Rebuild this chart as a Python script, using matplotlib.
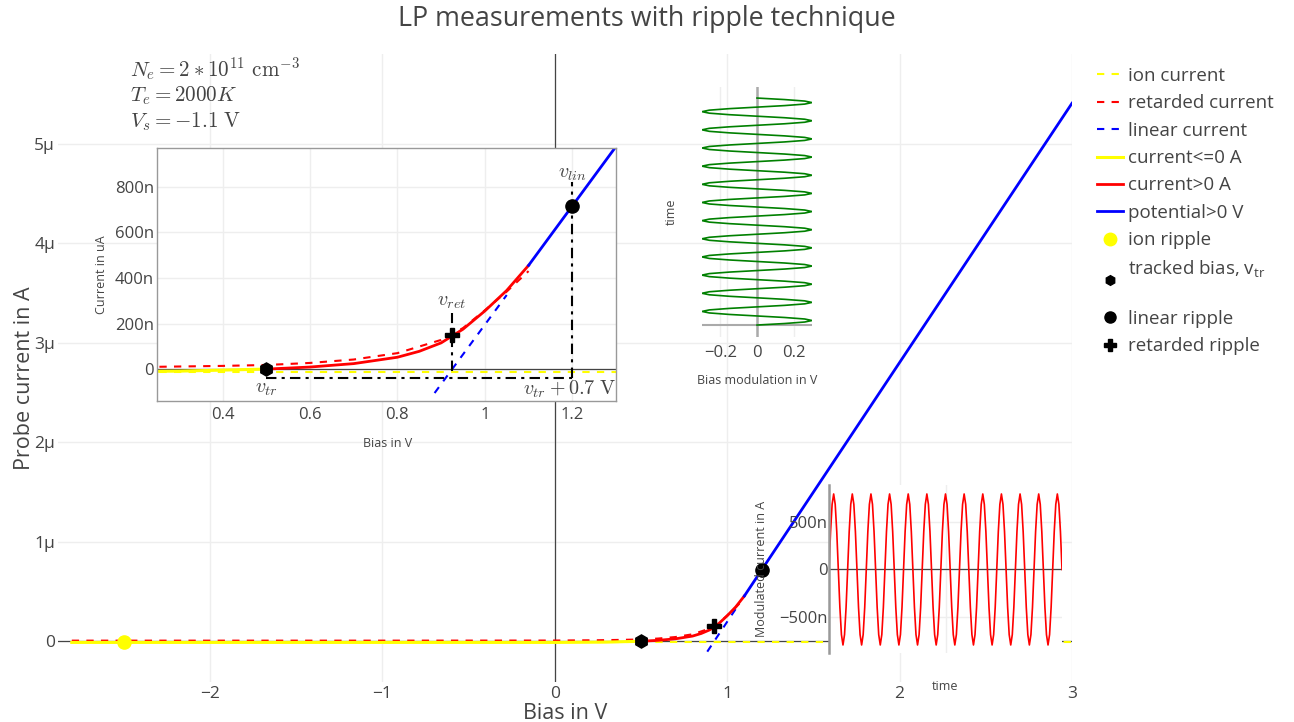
import matplotlib

matplotlib.use("Agg")
import matplotlib.pyplot as plt
import numpy as np
from matplotlib.lines import Line2D

plt.rcParams["font.family"] = ["Open Sans", "DejaVu Sans"]
plt.rcParams["mathtext.fontset"] = "cm"

TXT = "#444444"
GRID = "#eeeeee"
W, H = 1294, 722

# probe characteristic: bias in V, current in uA
ION_V = [-2.8, 3.0]
ION_I = [-0.012, -0.012]
RET_V = [-2.8, -1.0, 0.0, 0.25, 0.4, 0.5, 0.6, 0.7, 0.8, 0.9, 0.95, 1.0, 1.05, 1.1]
RET_I = [0.006, 0.006, 0.007, 0.01, 0.014, 0.018, 0.027, 0.042, 0.07, 0.128,
         0.18, 0.258, 0.34, 0.43]
LIN_V = [0.885, 1.05]
LIN_I = [-0.105, 0.325]
NEG_V = [-2.8, 0.0, 0.3, 0.5]
NEG_I = [-0.012, -0.012, -0.009, 0.0]
POS_V = [0.5, 0.6, 0.7, 0.8, 0.85, 0.9, 0.95, 1.0, 1.05, 1.1]
POS_I = [0.0, 0.009, 0.024, 0.052, 0.078, 0.115, 0.175, 0.255, 0.345, 0.455]
SAT_V = [1.1, 3.0]
SAT_I = [0.455, 5.41]

# ripple points
ION_RIP = ([-2.5], [-0.012])
TRACK = ([0.5], [0.0])
LIN_RIP = ([1.2], [0.716])
RET_RIP = ([0.925], [0.15])

# construction lines in the zoom inset
VRET_LINE = ([0.925, 0.925], [-0.01, 0.245])
VLIN_LINE = ([1.2, 1.2], [-0.04, 0.82])
OFFSET_LINE = ([0.5, 1.2], [-0.04, -0.04])

# one period of the bias modulation (V) and of the modulated current (uA)
MOD_PERIOD = [0, 0.15, 0.26, 0.30, 0.26, 0.15, 0, -0.15, -0.26, -0.30, -0.26, -0.15]
CUR_PERIOD = [0, 0.40, 0.69, 0.80, 0.69, 0.40, 0, -0.40, -0.69, -0.80, -0.69, -0.40]
N_FULL = 12  # full periods, plus a half one

X_TICKS = [-2, -1, 0, 1, 2, 3]
X_LABELS = ["\u22122", "\u22121", "0", "1", "2", "3"]
Y_TICKS = [0, 1, 2, 3, 4, 5]
Y_LABELS = ["0", "1\u00b5", "2\u00b5", "3\u00b5", "4\u00b5", "5\u00b5"]
Z_XTICKS = [0.4, 0.6, 0.8, 1.0, 1.2]
Z_XLABELS = ["0.4", "0.6", "0.8", "1", "1.2"]
Z_YTICKS = [0, 0.2, 0.4, 0.6, 0.8]
Z_YLABELS = ["0", "200n", "400n", "600n", "800n"]
M_TICKS = [-0.2, 0, 0.2]
M_LABELS = ["\u22120.2", "0", "0.2"]
C_TICKS = [-0.5, 0, 0.5]
C_LABELS = ["\u2212500n", "0", "500n"]


def frac(left, top, right, bottom):
    return [left / W, 1 - bottom / H, (right - left) / W, (bottom - top) / H]


def wave(period):
    p = np.asarray(period)
    return np.concatenate([np.tile(p, N_FULL), p[:7]])


def curves(ax, ms=9.5):
    ax.plot(ION_V, ION_I, color="yellow", lw=1.5, dashes=(3.5, 3.5))
    ax.plot(RET_V, RET_I, color="red", lw=1.5, dashes=(3.5, 3.5))
    ax.plot(LIN_V, LIN_I, color="blue", lw=1.5, dashes=(3.5, 3.5))
    ax.plot(NEG_V, NEG_I, color="yellow", lw=2.2)
    ax.plot(POS_V, POS_I, color="red", lw=2.0)
    ax.plot(SAT_V, SAT_I, color="blue", lw=2.0)
    ax.plot(*ION_RIP, "o", color="yellow", ms=ms, zorder=5)
    ax.plot(*TRACK, "h", color="black", ms=ms, zorder=5)
    ax.plot(*LIN_RIP, "o", color="black", ms=ms, zorder=5)
    ax.plot(*RET_RIP, "P", color="black", ms=ms + 1, zorder=5)


def style(ax, size=12):
    ax.tick_params(length=0, colors=TXT, labelsize=size)
    for s in ax.spines.values():
        s.set_visible(False)
    ax.grid(True, color=GRID, lw=1)
    ax.set_axisbelow(True)


fig = plt.figure(figsize=(W / 100, H / 100), dpi=100)

# main characteristic
ax = fig.add_axes(frac(58, 54, 1072, 682))
style(ax, 12.5)
ax.axhline(0, color=TXT, lw=0.9, zorder=1)
ax.axvline(0, color=TXT, lw=0.9, zorder=1)
curves(ax)
ax.set_xlim(-2.88, 3.0)
ax.set_ylim(-0.41, 5.905)
ax.set_xticks(X_TICKS, X_LABELS)
ax.set_yticks(Y_TICKS, Y_LABELS)
ax.tick_params(axis="x", pad=3)
ax.tick_params(axis="y", pad=2)
ax.set_xlabel("Bias in V", fontsize=15.5, color=TXT)
ax.set_ylabel("Probe current in A", fontsize=15.5, color=TXT)
ax.xaxis.set_label_coords(0.5, -0.033)
ax.yaxis.set_label_coords(-0.023, 0.484)

# zoom on the knee
z = fig.add_axes(frac(157, 148, 616, 401))
style(z)
z.set_facecolor("white")
for s in z.spines.values():
    s.set_visible(True)
    s.set_color("#999999")
    s.set_linewidth(1)
z.axhline(0, color=TXT, lw=0.9, zorder=1)
curves(z)
dd = dict(color="black", lw=1.5, dashes=(5, 2.5, 1.5, 2.5))
z.plot(*VRET_LINE, **dd)
z.plot(*VLIN_LINE, **dd)
z.plot(*OFFSET_LINE, **dd)
z.set_xlim(0.25, 1.3)
z.set_ylim(-0.14, 0.97)
z.set_xticks(Z_XTICKS, Z_XLABELS)
z.set_yticks(Z_YTICKS, Z_YLABELS)
z.tick_params(axis="x", pad=4)
z.tick_params(axis="y", pad=2)
z.set_xlabel("Bias in V", fontsize=9, color=TXT)
z.set_ylabel("Current in uA", fontsize=9, color=TXT)
z.xaxis.set_label_coords(0.503, -0.142)
z.yaxis.set_label_coords(-0.107, 0.5)
lab = dict(ha="center", va="center", fontsize=14.5, color=TXT)
z.text(1.2, 0.86, r"$v_{lin}$", **lab)
z.text(0.925, 0.30, r"$v_{ret}$", **lab)
z.text(0.5, -0.085, r"$v_{tr}$", **lab)
z.text(1.195, -0.087, r"$v_{tr}+0.7\ \mathrm{V}$", **lab)

# bias modulation against time
mod = wave(MOD_PERIOD)
m = fig.add_axes(frac(702, 87, 812, 337))
style(m)
m.set_facecolor("none")
m.axvline(0, color="#aaaaaa", lw=1.8, zorder=1)
m.axhline(0, color="#aaaaaa", lw=1.5, zorder=1)
m.plot(mod, np.arange(len(mod)), color="green", lw=1.2)
m.set_xlim(-0.3, 0.3)
m.set_ylim(-7.9, 157.3)
m.set_xticks(M_TICKS, M_LABELS)
m.set_yticks([])
m.tick_params(axis="x", pad=6)
m.set_xlabel("Bias modulation in V", fontsize=9, color=TXT)
m.set_ylabel("time", fontsize=9, color=TXT)
m.xaxis.set_label_coords(0.5, -0.148)
m.yaxis.set_label_coords(-0.22, 0.5)

# modulated current against time
cur = wave(CUR_PERIOD)
c = fig.add_axes(frac(829, 485, 1062, 653))
style(c)
c.set_facecolor("white")
c.spines["left"].set_visible(True)
c.spines["left"].set_color("#999999")
c.spines["left"].set_linewidth(1.8)
c.axhline(0, color=TXT, lw=0.9, zorder=1)
c.plot(np.arange(len(cur)), cur, color="red", lw=1.2)
c.set_xlim(0, len(cur) - 1)
c.set_ylim(-0.885, 0.895)
c.set_xticks([75], [""])
c.set_yticks(C_TICKS, C_LABELS)
c.tick_params(axis="y", pad=1)
c.set_xlabel("time", fontsize=9, color=TXT)
c.set_ylabel("Modulated current in A", fontsize=9, color=TXT)
c.xaxis.set_label_coords(0.498, -0.16)
c.yaxis.set_label_coords(-0.262, 0.5)

# plasma parameters
note = dict(fontsize=15.2, color=TXT, ha="left", va="center")
fig.text(130 / W, 1 - 69 / H, r"$N_e = 2\ast10^{11}\ \mathrm{cm}^{-3}$", **note)
fig.text(130 / W, 1 - 96 / H, r"$T_e = 2000K$", **note)
fig.text(130 / W, 1 - 122 / H, r"$V_s = -1.1\ \mathrm{V}$", **note)

fig.text(0.5, 1 - 19 / H, "LP measurements with ripple technique",
         ha="center", va="center", fontsize=19.4, color=TXT)

handles = [
    Line2D([], [], color="yellow", lw=1.5, dashes=(3.5, 3.5)),
    Line2D([], [], color="red", lw=1.5, dashes=(3.5, 3.5)),
    Line2D([], [], color="blue", lw=1.5, dashes=(3.5, 3.5)),
    Line2D([], [], color="yellow", lw=2.2),
    Line2D([], [], color="red", lw=2.0),
    Line2D([], [], color="blue", lw=2.0),
    Line2D([], [], marker="o", color="yellow", ls="none", ms=9),
    Line2D([], [], marker="h", color="black", ls="none", ms=7),
    Line2D([], [], marker="o", color="black", ls="none", ms=8),
    Line2D([], [], marker="P", color="black", ls="none", ms=8.5),
]
labels = ["ion current", "retarded current", "linear current", "current<=0 A",
          "current>0 A", "potential>0 V", "ion ripple",
          "tracked bias, v$_{\\mathregular{tr}}$\n", "linear ripple",
          "retarded ripple"]
leg = fig.legend(handles, labels, loc="upper left",
                 bbox_to_anchor=(1097 / W, 1 - 67 / H), frameon=False,
                 fontsize=13.5, handlelength=1.4, handletextpad=0.27,
                 labelspacing=0.5, borderpad=0, borderaxespad=0)
for t in leg.get_texts():
    t.set_color(TXT)

fig.savefig("out.png", dpi=100)
